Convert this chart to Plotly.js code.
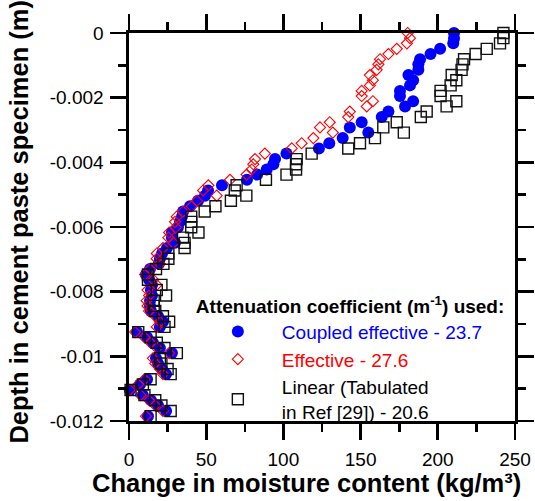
<!DOCTYPE html>
<html>
<head>
<meta charset="utf-8">
<script src="https://cdn.plot.ly/plotly-3.0.1.min.js"></script>
<style>html,body{margin:0;padding:0;background:#fff;}#chart{width:535px;height:501px;}</style>
</head>
<body>
<div id="chart"></div>
<script>
// Depth below surface (m)
const depth = [0, -0.00016, -0.00032, -0.00049, -0.00065, -0.00081, -0.00097, -0.00114, -0.0013, -0.00146,
  -0.00162, -0.00179, -0.00195, -0.00211, -0.00227, -0.00243, -0.0026, -0.00276, -0.00292, -0.00308,
  -0.00325, -0.00341, -0.00357, -0.00373, -0.0039, -0.00406, -0.00422, -0.00438, -0.00454, -0.00471,
  -0.00487, -0.00503, -0.00519, -0.00536, -0.00552, -0.00568, -0.00584, -0.00601, -0.00617, -0.00633,
  -0.00649, -0.00665, -0.00682, -0.00698, -0.00714, -0.0073, -0.00747, -0.00763, -0.00779, -0.00795,
  -0.00812, -0.00828, -0.00844, -0.0086, -0.00876, -0.00893, -0.00909, -0.00925, -0.00941, -0.00958,
  -0.00974, -0.0099, -0.01006, -0.01022, -0.01039, -0.01055, -0.01071, -0.01087, -0.01104, -0.0112,
  -0.01136, -0.01152, -0.01169, -0.01185];

// Change in moisture content (kg/m3), coupled effective coefficient 23.7
const coupled = [210.5, 210.5, 210, 201.5, 195.3, 188.5, 187.4, 187.4, 181, 184,
  182, 175.5, 175.5, 184, 178.8, 168, 163.7, 150.7, 143, 155,
  138.4, 129.7, 123, 102, 94.6, 93.5, 89.2, 83, 76.4, 60.2,
  51.2, 49.2, 44.7, 39.5, 35, 34.3, 33, 31.7, 27.8, 27.8,
  29.8, 24.6, 21.4, 20, 19.4, 13.6, 11, 13, 14.9, 14.2,
  14.9, 13.6, 13.6, 14.2, 18.8, 22, 20, 5.2, 11.7, 15.5,
  20, 27.8, 17.5, 18.8, 21.4, 24, 11.7, 7.1, 0.6, 9,
  14.2, 18.8, 24, 12.3];

// Effective coefficient 27.6
const effective = [180.5, 182, 180, 173.4, 168, 162.6, 161.5, 160.4, 156, 158,
  156, 150.7, 150.7, 158, 154, 143, 142, 130, 123.7, 132,
  119.4, 111.8, 105.4, 88, 81.6, 80.5, 79.5, 76.2, 65.4, 51.4,
  48, 56.8, 44, 40.6, 35, 30.9, 29.8, 30.4, 26, 25.5,
  28.7, 22, 18, 17.9, 20, 13.6, 10.4, 15.7, 17.9, 12,
  13, 11.4, 12, 13, 17, 20, 18, 4, 10, 14,
  18, 26, 15.5, 17, 20, 22, 10, 6, 0.5, 7.5,
  13, 17, 22, 11];

// Linear coefficient (tabulated in Ref [29]) 20.6
const linear = [242.5, 242.5, 240.3, 231.7, 224.5, 217, 216, 215.4, 209, 212,
  208.3, 201.8, 201.8, 212, 205.7, 192.8, 189, 173.4, 164.7, 178,
  159.3, 149.6, 142, 118.3, 108.6, 108.2, 108.2, 102, 88.7, 69.7,
  68.5, 76, 66, 56, 49, 40.3, 40.3, 40.3, 45, 35,
  36, 36, 25.5, 25.5, 22.3, 17.5, 12.3, 12.3, 21, 18,
  24, 16, 16, 17, 22, 26, 23, 6, 14, 18,
  23, 31, 20, 21, 25, 27, 14, 9, 1, 10,
  17, 21, 27, 14];

const seriesNames = [
  '<span style="color:#0000ff">Coupled effective - 23.7</span>',
  '<span style="color:#ff0000">Effective - 27.6</span>',
  'Linear (Tabulated<br>in Ref [29]) - 20.6'
];
const legendTitle = '<b>Attenuation coefficient (m<sup>-1</sup>) used:</b>';
const xTitle = '<b>Change in moisture content (kg/m³)</b>';
const yTitle = '<b>Depth in cement paste specimen (m)</b>';
const yTickVals = [0, -0.002, -0.004, -0.006, -0.008, -0.01, -0.012];
const yTickText = ['0', '-0.002', '-0.004', '-0.006', '-0.008', '-0.01', '-0.012'];
const xTickVals = [0, 50, 100, 150, 200, 250];

const FONT = 'Liberation Sans, Arial, sans-serif';

const traces = [
  {x: coupled, y: depth, name: seriesNames[0], type: 'scatter', mode: 'markers', cliponaxis: false,
   marker: {symbol: 'circle', size: 12, color: '#0000ff', line: {width: 0}}},
  {x: effective, y: depth, name: seriesNames[1], type: 'scatter', mode: 'markers', cliponaxis: false,
   marker: {symbol: 'diamond-open', size: 8.5, color: '#ff0000', line: {width: 1.1, color: '#ff0000'}}},
  {x: linear, y: depth, name: seriesNames[2], type: 'scatter', mode: 'markers', cliponaxis: false,
   marker: {symbol: 'square-open', size: 11, color: '#111111', line: {width: 1.4, color: '#111111'}}}
];

const axisCommon = {
  showgrid: false, zeroline: false, showline: true, linecolor: '#000', linewidth: 2.6,
  mirror: 'ticks', ticks: 'outside', ticklen: 16, tickwidth: 2.6, tickcolor: '#000',
  tickfont: {family: FONT, size: 19, color: '#000'}, automargin: false
};

const layout = {
  width: 535, height: 501,
  margin: {l: 129, r: 20, t: 33, b: 80},
  paper_bgcolor: '#fff', plot_bgcolor: '#fff',
  font: {family: FONT, color: '#000'},
  showlegend: true,
  xaxis: Object.assign({}, axisCommon, {
    range: [0, 250], tickmode: 'array', tickvals: xTickVals, ticklabelstandoff: 4,
    minor: {tickmode: 'linear', tick0: 0, dtick: 25, ticks: 'outside', ticklen: 8, tickwidth: 2.6, tickcolor: '#000'}
  }),
  yaxis: Object.assign({}, axisCommon, {
    range: [-0.012, 0], tickmode: 'array', tickvals: yTickVals, ticktext: yTickText, ticklabelstandoff: 3,
    minor: {tickmode: 'linear', tick0: 0, dtick: 0.001, ticks: 'outside', ticklen: 8, tickwidth: 2.6, tickcolor: '#000'}
  }),
  annotations: [
    {text: xTitle, xref: 'paper', yref: 'paper', x: 0.461, y: -0.16, xanchor: 'center', yanchor: 'middle',
     showarrow: false, font: {family: FONT, size: 25.5, color: '#000'}},
    {text: yTitle, xref: 'paper', yref: 'paper', x: -0.285, y: 0.514, xanchor: 'center', yanchor: 'middle',
     textangle: -90, showarrow: false, font: {family: FONT, size: 25.5, color: '#000'}}
  ],
  legend: {
    x: 0.168, y: 0.343, xanchor: 'left', yanchor: 'top',
    bgcolor: 'rgba(0,0,0,0)', borderwidth: 0, itemwidth: 78,
    font: {family: FONT, size: 19, color: '#000'},
    title: {text: legendTitle, side: 'top', font: {family: FONT, size: 19, color: '#000'}},
    tracegroupgap: 0
  }
};

Plotly.newPlot('chart', traces, layout, {displayModeBar: false, staticPlot: true});
</script>
</body>
</html>
